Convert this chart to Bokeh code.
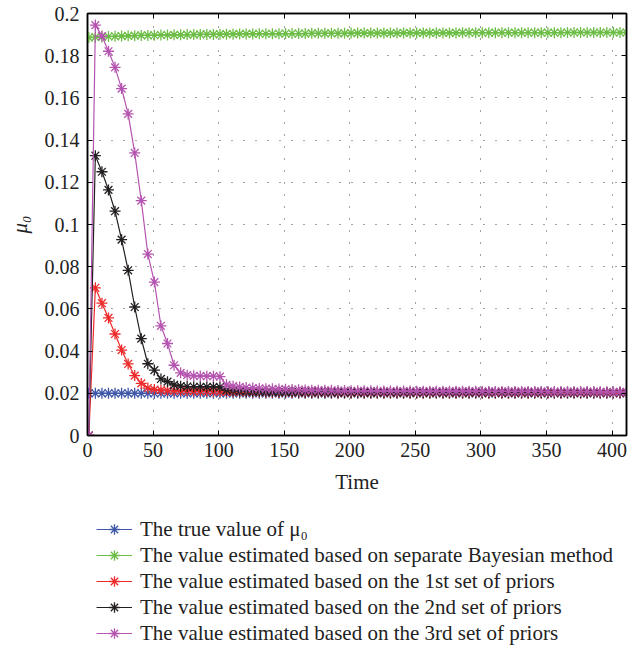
from bokeh.plotting import figure
from bokeh.layouts import column
from bokeh.models import (LinearAxis, FixedTicker, CustomJSTickFormatter, Legend,
                          LegendItem, Range1d)
from bokeh.embed import file_html
from bokeh.resources import INLINE

# ---------------- data ----------------
time = [1, 6, 11, 16, 21, 26, 31, 36, 41, 46,
        51, 56, 61, 66, 71, 76, 81, 86, 91, 96,
        101, 106, 111, 116, 121, 126, 131, 136, 141, 146,
        151, 156, 161, 166, 171, 176, 181, 186, 191, 196,
        201, 206, 211, 216, 221, 226, 231, 236, 241, 246,
        251, 256, 261, 266, 271, 276, 281, 286, 291, 296,
        301, 306, 311, 316, 321, 326, 331, 336, 341, 346,
        351, 356, 361, 366, 371, 376, 381, 386, 391, 396,
        401, 406, 411]

true_value = [0.02, 0.02, 0.02, 0.02, 0.02, 0.02, 0.02, 0.02, 0.02, 0.02,
              0.02, 0.02, 0.02, 0.02, 0.02, 0.02, 0.02, 0.02, 0.02, 0.02,
              0.02, 0.02, 0.02, 0.02, 0.02, 0.02, 0.02, 0.02, 0.02, 0.02,
              0.02, 0.02, 0.02, 0.02, 0.02, 0.02, 0.02, 0.02, 0.02, 0.02,
              0.02, 0.02, 0.02, 0.02, 0.02, 0.02, 0.02, 0.02, 0.02, 0.02,
              0.02, 0.02, 0.02, 0.02, 0.02, 0.02, 0.02, 0.02, 0.02, 0.02,
              0.02, 0.02, 0.02, 0.02, 0.02, 0.02, 0.02, 0.02, 0.02, 0.02,
              0.02, 0.02, 0.02, 0.02, 0.02, 0.02, 0.02, 0.02, 0.02, 0.02,
              0.02, 0.02, 0.02]

separate_bayes = [0.1886, 0.1888, 0.1889, 0.1891, 0.1892, 0.1893, 0.1894, 0.1895, 0.1896, 0.1896,
                  0.1897, 0.1898, 0.1898, 0.1899, 0.1899, 0.1900, 0.1900, 0.1901, 0.1901, 0.1901,
                  0.1902, 0.1902, 0.1902, 0.1903, 0.1903, 0.1903, 0.1904, 0.1904, 0.1904, 0.1904,
                  0.1905, 0.1905, 0.1905, 0.1905, 0.1906, 0.1906, 0.1906, 0.1906, 0.1906, 0.1906,
                  0.1907, 0.1907, 0.1907, 0.1907, 0.1907, 0.1907, 0.1907, 0.1907, 0.1908, 0.1908,
                  0.1908, 0.1908, 0.1908, 0.1908, 0.1908, 0.1908, 0.1908, 0.1909, 0.1909, 0.1909,
                  0.1909, 0.1909, 0.1909, 0.1909, 0.1909, 0.1909, 0.1909, 0.1909, 0.1909, 0.1909,
                  0.1909, 0.1909, 0.1909, 0.1910, 0.1910, 0.1910, 0.1910, 0.1910, 0.1910, 0.1910,
                  0.1910, 0.1910, 0.1910]

priors_1 = [0.0, 0.0700, 0.0627, 0.0557, 0.0481, 0.0405, 0.0339, 0.0284, 0.0247, 0.0225,
            0.0218, 0.0215, 0.0213, 0.0212, 0.0211, 0.0211, 0.0210, 0.0210, 0.0209, 0.0209,
            0.0208, 0.0207, 0.0207, 0.0206, 0.0206, 0.0205, 0.0205, 0.0205, 0.0204, 0.0204,
            0.0204, 0.0204, 0.0203, 0.0203, 0.0203, 0.0203, 0.0203, 0.0203, 0.0202, 0.0202,
            0.0202, 0.0202, 0.0202, 0.0202, 0.0202, 0.0202, 0.0202, 0.0202, 0.0202, 0.0202,
            0.0202, 0.0202, 0.0202, 0.0202, 0.0202, 0.0202, 0.0202, 0.0202, 0.0202, 0.0202,
            0.0202, 0.0202, 0.0202, 0.0202, 0.0202, 0.0202, 0.0202, 0.0202, 0.0202, 0.0202,
            0.0202, 0.0202, 0.0202, 0.0202, 0.0202, 0.0202, 0.0202, 0.0202, 0.0202, 0.0202,
            0.0202, 0.0202, 0.0202]

priors_2 = [0.0, 0.1326, 0.1250, 0.1164, 0.1063, 0.0928, 0.0783, 0.0609, 0.0459, 0.0340,
            0.0310, 0.0268, 0.0255, 0.0240, 0.0234, 0.0232, 0.0231, 0.0231, 0.0230, 0.0230,
            0.0229, 0.0215, 0.0212, 0.0210, 0.0209, 0.0208, 0.0208, 0.0207, 0.0207, 0.0206,
            0.0206, 0.0206, 0.0205, 0.0205, 0.0205, 0.0205, 0.0205, 0.0204, 0.0204, 0.0204,
            0.0204, 0.0204, 0.0204, 0.0204, 0.0204, 0.0204, 0.0204, 0.0204, 0.0204, 0.0204,
            0.0204, 0.0204, 0.0204, 0.0204, 0.0204, 0.0204, 0.0204, 0.0204, 0.0204, 0.0204,
            0.0204, 0.0204, 0.0204, 0.0204, 0.0204, 0.0204, 0.0204, 0.0204, 0.0204, 0.0204,
            0.0204, 0.0204, 0.0204, 0.0204, 0.0204, 0.0204, 0.0204, 0.0204, 0.0204, 0.0204,
            0.0204, 0.0204, 0.0204]

priors_3 = [0.0, 0.1945, 0.1893, 0.1821, 0.1745, 0.1644, 0.1524, 0.1339, 0.1113, 0.0860,
            0.0727, 0.0520, 0.0436, 0.0333, 0.0297, 0.0286, 0.0283, 0.0282, 0.0281, 0.0281,
            0.0279, 0.0240, 0.0234, 0.0230, 0.0227, 0.0225, 0.0223, 0.0222, 0.0221, 0.0220,
            0.0219, 0.0218, 0.0217, 0.0216, 0.0215, 0.0215, 0.0214, 0.0214, 0.0213, 0.0213,
            0.0212, 0.0212, 0.0212, 0.0212, 0.0211, 0.0211, 0.0211, 0.0211, 0.0211, 0.0211,
            0.0210, 0.0210, 0.0210, 0.0210, 0.0210, 0.0210, 0.0210, 0.0210, 0.0210, 0.0210,
            0.0209, 0.0209, 0.0209, 0.0209, 0.0209, 0.0209, 0.0209, 0.0209, 0.0209, 0.0209,
            0.0208, 0.0208, 0.0208, 0.0208, 0.0208, 0.0208, 0.0208, 0.0208, 0.0207, 0.0207,
            0.0207, 0.0207, 0.0207]

x_ticks = [0, 50, 100, 150, 200, 250, 300, 350, 400]
y_ticks = [0, 0.02, 0.04, 0.06, 0.08, 0.1, 0.12, 0.14, 0.16, 0.18, 0.2]

series_labels = ["The true value of μ₀",
                 "The value estimated based on separate Bayesian method",
                 "The value estimated based on the 1st set of priors",
                 "The value estimated based on the 2nd set of priors",
                 "The value estimated based on the 3rd set of priors"]
series_values = [true_value, separate_bayes, priors_1, priors_2, priors_3]
series_colors = ["#3f57a8", "#6cbd45", "#ee2a2a", "#231f20", "#b554b0"]

FONT = "Liberation Serif"

# ---------------- main figure ----------------
p = figure(width=639, height=500, output_backend="svg", toolbar_location=None,
           x_range=Range1d(0, 411), y_range=Range1d(0, 0.2),
           min_border_left=87, min_border_right=13, min_border_top=13,
           min_border_bottom=65)
p.background_fill_color = "white"
p.border_fill_color = "white"
p.outline_line_color = "black"
p.outline_line_width = 1.5

xt = FixedTicker(ticks=x_ticks)
yt = FixedTicker(ticks=y_ticks)
yfmt = CustomJSTickFormatter(code="""
var s = tick.toFixed(2);
s = s.replace(/0+$/, '').replace(/\\.$/, '');
return s;
""")

p.xaxis.ticker = xt
p.yaxis.ticker = yt
p.yaxis.formatter = yfmt
p.xgrid.ticker = xt
p.ygrid.ticker = yt

for ax in (p.xaxis[0], p.yaxis[0]):
    ax.axis_line_color = "black"
    ax.axis_line_width = 1.5
    ax.major_tick_in = 5
    ax.major_tick_out = 0
    ax.major_tick_line_color = "black"
    ax.minor_tick_line_color = None
    ax.major_label_text_font = FONT
    ax.major_label_text_font_size = "20px"
    ax.major_label_text_color = "#222222"
    ax.axis_label_text_font = FONT
    ax.axis_label_text_font_size = "21px"
    ax.axis_label_text_color = "#222222"

p.xaxis.axis_label = "Time"
p.xaxis.axis_label_text_font_style = "normal"
p.xaxis.major_label_standoff = 7
p.xaxis.axis_label_standoff = 10
p.yaxis.axis_label = "μ₀"
p.yaxis.axis_label_text_font_style = "italic"
p.yaxis.major_label_standoff = 8
p.yaxis.axis_label_standoff = 10

blank = CustomJSTickFormatter(code="return '';")
# box axes on top and right (ticks only)
for side, tk in (("right", yt), ("above", xt)):
    a = LinearAxis(ticker=tk, formatter=blank, axis_line_color="black", axis_line_width=1.5,
                   major_tick_in=5, major_tick_out=0, minor_tick_line_color=None,
                   major_label_standoff=0)
    p.add_layout(a, side)

for g in (p.xgrid[0], p.ygrid[0]):
    g.grid_line_color = "#444444"
    g.grid_line_dash = "1 11"
    g.grid_line_width = 1

for vals, col in zip(series_values, series_colors):
    p.line(time, vals, line_color=col, line_width=1.2)
    p.scatter(time, vals, marker="asterisk", size=11, line_color=col, line_width=1.3)

# ---------------- legend strip (series drawn off-view, legend only) ----------------
lg = figure(width=639, height=152, output_backend="svg", toolbar_location=None,
            x_range=Range1d(-20, -10), y_range=Range1d(-20, -10),
            min_border_left=87, min_border_right=0, min_border_top=0,
            min_border_bottom=0)
lg.axis.visible = False
lg.grid.visible = False
lg.outline_line_color = None
lg.background_fill_color = "white"
lg.border_fill_color = "white"

items = []
for lab, vals, col in zip(series_labels, series_values, series_colors):
    ln = lg.line(time, vals, line_color=col, line_width=1.2)
    sc = lg.scatter(time, vals, marker="asterisk", size=11, line_color=col, line_width=1.3)
    items.append(LegendItem(label=lab, renderers=[ln, sc]))

legend = Legend(items=items, location=(9, 6), orientation="vertical")
legend.border_line_color = None
legend.background_fill_alpha = 0
legend.label_text_font = FONT
legend.label_text_font_size = "21px"
legend.label_text_color = "#222222"
legend.label_height = 26
legend.glyph_height = 26
legend.glyph_width = 36
legend.label_standoff = 8
legend.spacing = 0
legend.padding = 4
legend.margin = 0
lg.add_layout(legend, "center")

layout = column(p, lg, spacing=0)
open("out.html", "w").write(file_html(layout, INLINE))
